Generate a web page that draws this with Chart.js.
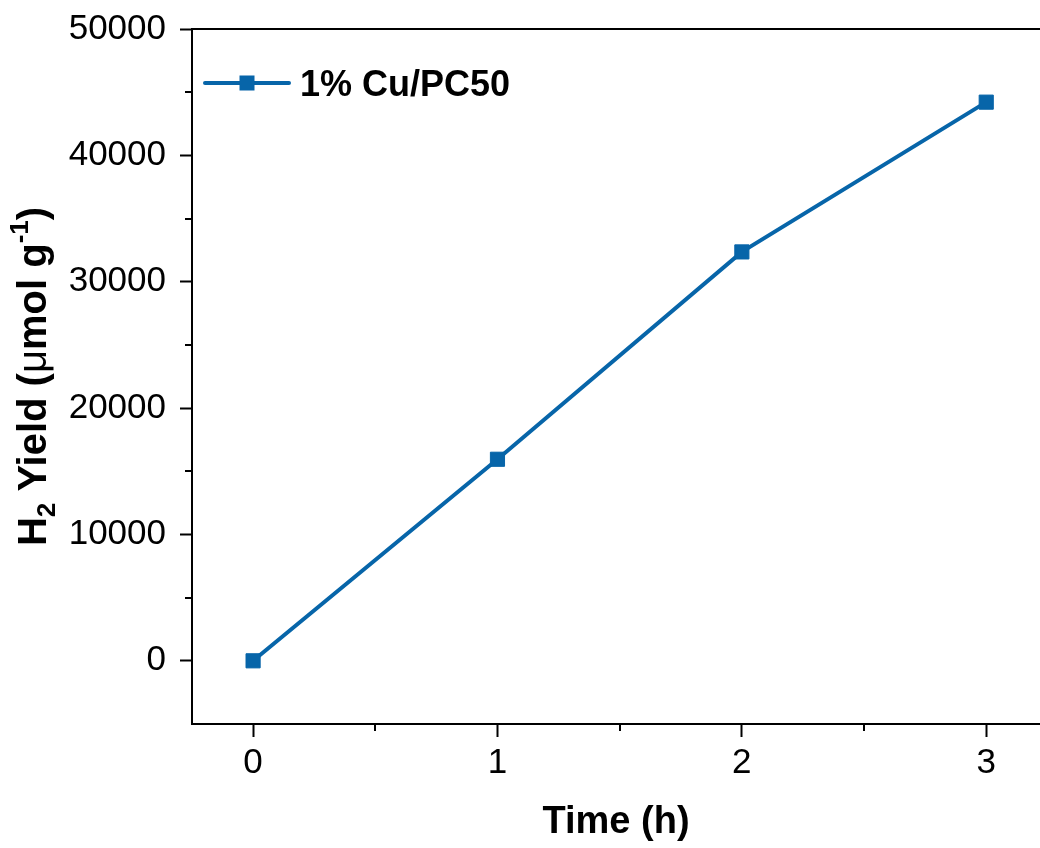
<!DOCTYPE html>
<html>
<head>
<meta charset="utf-8">
<script src="https://cdn.jsdelivr.net/npm/chart.js@4.4.1/dist/chart.umd.min.js"></script>
<style>
  html, body { margin: 0; padding: 0; background: #fff; overflow: hidden; }
  #chart { display: block; }
</style>
</head>
<body>
<canvas id="chart" width="1040" height="848"></canvas>
<script>
// data
const timeHours = [0, 1, 2, 3];
const h2Yield = [0, 15950, 32360, 44210];
const seriesName = '1% Cu/PC50';

// axis ticks
const xMajorTicks = [0, 1, 2, 3];
const xMinorTicks = [0.5, 1.5, 2.5];
const yMajorTicks = [0, 10000, 20000, 30000, 40000, 50000];
const yMinorTicks = [5000, 15000, 25000, 35000, 45000];

const blue = '#0765a9';
const fontFamily = "'Liberation Sans', Arial, sans-serif";

// top frame line, minor ticks, y title with sub/superscript, legend
const decorPlugin = {
    id: 'decor',
    afterDraw(chart) {
        const ctx = chart.ctx;
        const area = chart.chartArea;
        const xs = chart.scales.x;
        const ys = chart.scales.y;
        ctx.save();

        // top frame
        ctx.strokeStyle = '#000';
        ctx.lineWidth = 2;
        ctx.beginPath();
        ctx.moveTo(area.left - 1, area.top);
        ctx.lineTo(area.right, area.top);
        ctx.stroke();

        // minor ticks
        ctx.beginPath();
        xMinorTicks.forEach(v => {
            const px = Math.round(xs.getPixelForValue(v));
            ctx.moveTo(px, area.bottom);
            ctx.lineTo(px, area.bottom + 7);
        });
        yMinorTicks.forEach(v => {
            const py = Math.round(ys.getPixelForValue(v));
            ctx.moveTo(area.left, py);
            ctx.lineTo(area.left - 7, py);
        });
        ctx.stroke();

        // y axis title
        const big = 'bold 40px ' + fontFamily;
        const small = 'bold 26px ' + fontFamily;
        const parts = [
            { t: 'H', f: big, dy: 0 },
            { t: '2', f: small, dy: 9 },
            { t: ' Yield (', f: big, dy: 0 },
            { t: 'μ', f: '40px ' + fontFamily, dy: 0 },
            { t: 'mol g', f: big, dy: 0 },
            { t: '-1', f: small, dy: -18 },
            { t: ')', f: big, dy: 0 }
        ];
        let total = 0;
        parts.forEach(p => { ctx.font = p.f; p.w = ctx.measureText(p.t).width; total += p.w; });
        ctx.translate(46, (area.top + area.bottom) / 2);
        ctx.rotate(-Math.PI / 2);
        ctx.fillStyle = '#000';
        ctx.textBaseline = 'alphabetic';
        ctx.textAlign = 'left';
        let cx = -total / 2;
        parts.forEach(p => {
            ctx.font = p.f;
            ctx.fillText(p.t, cx, p.dy);
            cx += p.w;
        });
        ctx.restore();

        // legend
        if (!chart.isDatasetVisible(0)) return;
        ctx.save();
        const ly = 83;
        ctx.strokeStyle = blue;
        ctx.lineWidth = 4;
        ctx.lineCap = 'round';
        ctx.beginPath();
        ctx.moveTo(205, ly);
        ctx.lineTo(289, ly);
        ctx.stroke();
        ctx.fillStyle = blue;
        ctx.fillRect(247 - 7.5, ly - 7.5, 15, 15);
        ctx.fillStyle = '#000';
        ctx.font = 'bold 36px ' + fontFamily;
        ctx.textBaseline = 'alphabetic';
        ctx.fillText(chart.data.datasets[0].label, 300, 96);
        ctx.restore();
    }
};

const ctx = document.getElementById('chart').getContext('2d');
const chart = new Chart(ctx, {
    type: 'line',
    data: {
        datasets: [{
            label: seriesName,
            data: timeHours.map((t, i) => ({ x: t, y: h2Yield[i] })),
            borderColor: blue,
            backgroundColor: blue,
            borderWidth: 4,
            pointStyle: 'rect',
            pointRadius: 10,
            pointBorderWidth: 1,
            pointBackgroundColor: blue,
            pointBorderColor: blue,
            tension: 0
        }]
    },
    options: {
        responsive: false,
        animation: false,
        layout: { autoPadding: false, padding: { top: 29, right: 0, bottom: 0, left: 0 } },
        plugins: {
            legend: { display: false },
            tooltip: { enabled: false }
        },
        scales: {
            x: {
                type: 'linear',
                min: -0.25,
                max: 3.22,
                afterBuildTicks: axis => { axis.ticks = xMajorTicks.map(v => ({ value: v })); },
                afterFit: axis => {
                    axis.height = 124;
                    axis.paddingLeft = 0;
                    axis.paddingRight = 0;
                },
                grid: { drawOnChartArea: false, drawTicks: true, tickLength: 13, tickWidth: 2, tickColor: '#000' },
                border: { display: true, color: '#000', width: 2 },
                ticks: {
                    color: '#000',
                    padding: 5,
                    font: { family: fontFamily, size: 35 },
                    callback: v => String(v)
                },
                title: {
                    display: true,
                    text: 'Time (h)',
                    color: '#000',
                    font: { family: fontFamily, size: 38, weight: 'bold' },
                    padding: { top: 0, bottom: 3 }
                }
            },
            y: {
                type: 'linear',
                min: -5000,
                max: 50000,
                afterBuildTicks: axis => { axis.ticks = yMajorTicks.map(v => ({ value: v })); },
                afterFit: axis => {
                    axis.width = 192;
                    axis.paddingTop = 0;
                    axis.paddingBottom = 0;
                },
                grid: { drawOnChartArea: false, drawTicks: true, tickLength: 12, tickWidth: 2, tickColor: '#000' },
                border: { display: true, color: '#000', width: 2 },
                ticks: {
                    color: '#000',
                    padding: 14,
                    font: { family: fontFamily, size: 35 },
                    callback: v => String(v)
                }
            }
        }
    },
    plugins: [decorPlugin]
});
</script>
</body>
</html>
